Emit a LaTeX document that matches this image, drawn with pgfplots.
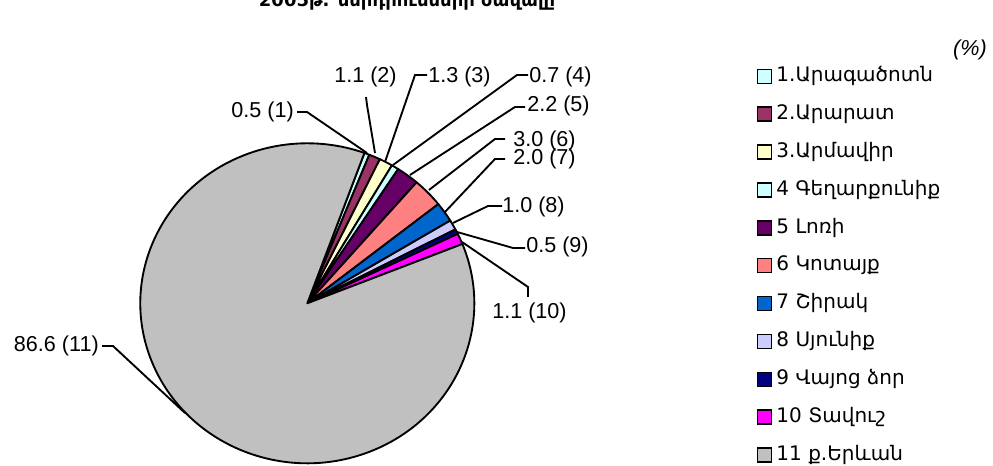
\documentclass[border=0pt]{standalone}
\usepackage{pgfplots}
\usepackage{pgfplotstable}
\pgfplotsset{compat=1.18}
\usepackage{fontspec}
\setmainfont{Liberation Sans}
\newfontfamily\armfont{DejaVu Sans}

\definecolor{slice1}{HTML}{CCFFFF}
\definecolor{slice2}{HTML}{993366}
\definecolor{slice3}{HTML}{FFFFCC}
\definecolor{slice4}{HTML}{CCFFFF}
\definecolor{slice5}{HTML}{660066}
\definecolor{slice6}{HTML}{FF8080}
\definecolor{slice7}{HTML}{0066CC}
\definecolor{slice8}{HTML}{CCCCFF}
\definecolor{slice9}{HTML}{000080}
\definecolor{slice10}{HTML}{FF00FF}
\definecolor{slice11}{HTML}{C0C0C0}

% share of each region, percent
\pgfplotstableread{
share colour
0.5  slice1
1.1  slice2
1.3  slice3
0.7  slice4
2.2  slice5
3.0  slice6
2.0  slice7
1.0  slice8
0.5  slice9
1.1  slice10
86.6 slice11
}\pietable

\begin{document}
\begin{tikzpicture}
\begin{axis}[
    hide axis,
    clip=false,
    x=0.75pt, y=0.75pt,
    xmin=0, xmax=993,
    ymin=0, ymax=466,
    anchor=origin, at={(0,0)},
    legend cell align=left,
    legend image code/.code={
        \draw[#1, draw=black, line width=1.1pt] (0pt,-5.25pt) rectangle (10.5pt,5.25pt);
    },
    legend style={
        at={(axis cs:757,399)}, anchor=north west,
        draw=none, fill=none, inner sep=0pt, outer sep=0pt,
        font=\armfont\fontsize{15}{17}\selectfont,
        nodes={inner sep=0pt, text height=11pt, text depth=3pt},
        row sep=14.4pt, column sep=3pt,
    },
]
\addlegendimage{fill=slice1}\addlegendentry{1.Արագածոտն}
\addlegendimage{fill=slice2}\addlegendentry{2.Արարատ}
\addlegendimage{fill=slice3}\addlegendentry{3.Արմավիր}
\addlegendimage{fill=slice4}\addlegendentry{4 Գեղարքունիք}
\addlegendimage{fill=slice5}\addlegendentry{5 Լոռի}
\addlegendimage{fill=slice6}\addlegendentry{6 Կոտայք}
\addlegendimage{fill=slice7}\addlegendentry{7 Շիրակ}
\addlegendimage{fill=slice8}\addlegendentry{8 Սյունիք}
\addlegendimage{fill=slice9}\addlegendentry{9 Վայոց ձոր}
\addlegendimage{fill=slice10}\addlegendentry{10 Տավուշ}
\addlegendimage{fill=slice11}\addlegendentry{11 ք.Երևան}

% slices, clockwise from 70 degrees
\pgfplotsextra{%
  \xdef\startang{70}%
  \foreach \row in {0,...,10}{%
    \pgfplotstablegetelem{\row}{share}\of\pietable
    \pgfmathsetmacro{\endang}{\startang-3.6*\pgfplotsretval}%
    \pgfplotstablegetelem{\row}{colour}\of\pietable
    \edef\slicecol{\pgfplotsretval}%
    \filldraw[fill=\slicecol, draw=black, line width=1.4pt, line join=round]
      (axis cs:307.3,162.7)
      -- (axis cs:{307.3+167*cos(\startang)},{162.7+160*sin(\startang)})
      arc[start angle=\startang, end angle=\endang, x radius=125.25pt, y radius=120pt]
      -- cycle;
    \global\let\startang\endang
  }%
}

% leader lines
\draw[line width=1.4pt] (axis cs:297,354) -- (axis cs:307,354) -- (axis cs:367,313);
\draw[line width=1.4pt] (axis cs:366,369) -- (axis cs:367,361) -- (axis cs:375,313);
\draw[line width=1.4pt] (axis cs:427,391) -- (axis cs:415,391) -- (axis cs:385,304);
\draw[line width=1.4pt] (axis cs:528,391) -- (axis cs:517,391) -- (axis cs:393,301);
\draw[line width=1.4pt] (axis cs:525,359) -- (axis cs:515,359) -- (axis cs:410,291);
\draw[line width=1.4pt] (axis cs:505,327) -- (axis cs:495,327) -- (axis cs:429,276);
\draw[line width=1.4pt] (axis cs:505,307) -- (axis cs:495,307) -- (axis cs:445,254);
\draw[line width=1.4pt] (axis cs:502,260) -- (axis cs:488,260) -- (axis cs:453,243);
\draw[line width=1.4pt] (axis cs:525,218) -- (axis cs:513,218) -- (axis cs:457,234);
\draw[line width=1.4pt] (axis cs:528,169) -- (axis cs:528,179) -- (axis cs:462,224);
\draw[line width=1.4pt] (axis cs:102,120) -- (axis cs:113,120) -- (axis cs:185,53);

% data labels
\begin{scope}[every node/.style={inner sep=0pt, font=\fontsize{16.2}{19}\selectfont}]
\node[anchor=east] at (axis cs:294,354) {0.5 (1)};
\node[anchor=west] at (axis cs:334,389.5) {1.1 (2)};
\node[anchor=west] at (axis cs:428,389.5) {1.3 (3)};
\node[anchor=west] at (axis cs:529,389.5) {0.7 (4)};
\node[anchor=west] at (axis cs:527,360) {2.2 (5)};
\node[anchor=west] at (axis cs:513,325) {3.0 (6)};
\node[anchor=west] at (axis cs:513,307) {2.0 (7)};
\node[anchor=west] at (axis cs:502,259) {1.0 (8)};
\node[anchor=west] at (axis cs:526,219) {0.5 (9)};
\node[anchor=west] at (axis cs:492,153) {1.1 (10)};
\node[anchor=east] at (axis cs:99,120) {86.6 (11)};
\node[anchor=east] at (axis cs:987,416) {\itshape (\%)};
\end{scope}

% title, its upper part lies above the page
\node[anchor=base, inner sep=0pt, font=\armfont\bfseries\fontsize{13.5}{16}\selectfont]
  at (axis cs:407,459) {2005թ. ներդրումների ծավալը};
\end{axis}
\pgfresetboundingbox
\useasboundingbox (0,0) rectangle (744.75pt,349.5pt);
\end{tikzpicture}
\end{document}
